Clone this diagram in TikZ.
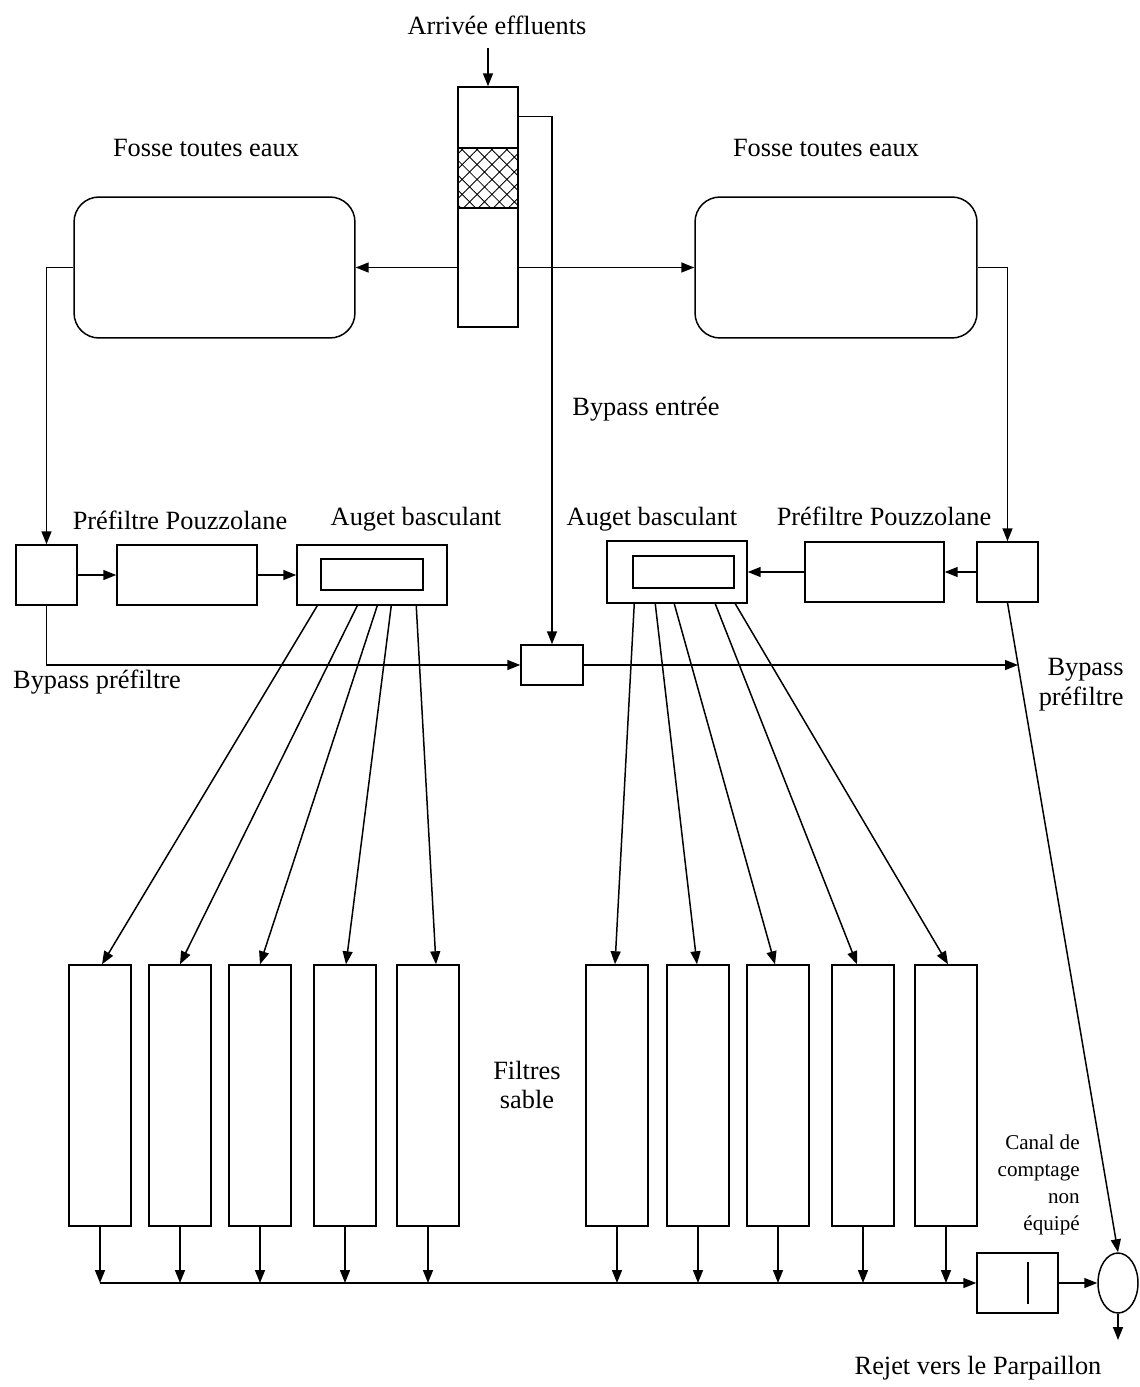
\documentclass[tikz,border=0pt]{standalone}
\usepackage{fontspec}
\setmainfont{Liberation Serif}
\usetikzlibrary{arrows.meta,positioning,patterns.meta,shapes.geometric}

\tikzset{
  box/.style={draw, line width=0.85pt, inner sep=0pt},
  lbl/.style={font=\fontsize{15}{17}\selectfont, inner sep=0pt},
  pipe/.style={line width=0.85pt},
  flow/.style={line width=0.85pt, -{Triangle[length=2.6mm,width=2mm]}}
}

\begin{document}
\begin{tikzpicture}[x=0.02cm, y=-0.02cm]
  \useasboundingbox (0,0) rectangle (1140,1387);

  % Inlet with screen
  \node[lbl] (arrLbl) at (497,25) {Arrivée effluents};
  \coordinate (arrIn) at (488,48);
  \node[box, minimum width=1.2cm, minimum height=4.8cm] (inlet) at (488,207) {};
  \node[box, minimum width=1.2cm, minimum height=1.2cm,
        pattern={Hatch[angle=45,distance=6pt,line width=0.5pt]}] (grid) at (488,178) {};
  \draw[flow] (arrIn) -- (inlet.north);

  % Septic tanks
  \node[lbl] (fosseLLbl) at (206,148) {Fosse toutes eaux};
  \node[lbl] (fosseRLbl) at (826,148) {Fosse toutes eaux};
  \node[box, rounded corners=0.5cm, minimum width=5.62cm, minimum height=2.82cm] (fosseL) at (214.5,267.5) {};
  \node[box, rounded corners=0.5cm, minimum width=5.64cm, minimum height=2.82cm] (fosseR) at (836,267.5) {};
  \draw[flow] (inlet.west |- fosseL.east) -- (fosseL.east);
  \draw[flow] (inlet.east |- fosseR.west) -- (fosseR.west);

  % Left line: prefilter and tipping bucket
  \node[lbl] (preLLbl) at (180,520) {Préfiltre Pouzzolane};
  \node[lbl] (augLLbl) at (416,519) {Auget basculant};
  \node[box, minimum width=1.22cm, minimum height=1.2cm] (boxL) at (46.5,575) {};
  \node[box, minimum width=2.8cm, minimum height=1.2cm] (preL) at (187,575) {};
  \node[box, minimum width=3.0cm, minimum height=1.2cm] (augL) at (372,575) {};
  \node[box, minimum width=2.04cm, minimum height=0.62cm] (augLin) at (372,574.5) {};
  \draw[flow] (fosseL.west) -| (boxL.north);
  \draw[flow] (boxL) -- (preL);
  \draw[flow] (preL) -- (augL);

  % Right line: prefilter and tipping bucket
  \node[lbl] (augRLbl) at (652,519) {Auget basculant};
  \node[lbl] (preRLbl) at (884,516) {Préfiltre Pouzzolane};
  \node[box, minimum width=1.22cm, minimum height=1.2cm] (boxR) at (1007.5,572) {};
  \node[box, minimum width=2.78cm, minimum height=1.2cm] (preR) at (874.5,572) {};
  \node[box, minimum width=2.8cm, minimum height=1.24cm] (augR) at (677,572) {};
  \node[box, minimum width=2.02cm, minimum height=0.64cm] (augRin) at (683.5,572) {};
  \draw[flow] (fosseR.east) -| (boxR.north);
  \draw[flow] (boxR) -- (preR);
  \draw[flow] (preR) -- (augR);

  % Bypasses
  \node[lbl] (byInLbl) at (646,409) {Bypass entrée};
  \node[lbl] (byLLbl) at (97,682) {Bypass préfiltre};
  \node[lbl, align=right, anchor=east] (byRLbl) at (1124,685) {Bypass\\préfiltre};
  \node[box, minimum width=1.24cm, minimum height=0.8cm] (jct) at (552,665) {};
  \coordinate (byR) at (1018,665);
  \draw[flow] ([yshift=-0.6cm]inlet.north east) -| (jct.north);
  \draw[flow] (boxL.south) |- (jct.west);
  \draw[flow] (jct.east) -- (byR);

  % Sand filters
  \foreach \x [count=\i] in {100,180,260,345,428}
    \node[box, minimum width=1.24cm, minimum height=5.22cm] (fL\i) at (\x,1095.5) {};
  \foreach \x [count=\i] in {617,698,778,863,946}
    \node[box, minimum width=1.24cm, minimum height=5.22cm] (fR\i) at (\x,1095.5) {};
  \node[lbl, align=center] (sableLbl) at (527,1085) {Filtres\\sable};

  % Distribution from the buckets
  \foreach \d/\e [count=\i] in {0.42/0.04,1.22/0,1.62/0,1.9/0.02,2.4/0.16}
    \draw[flow] ([xshift=\d cm]augL.south west) -- ([xshift=\e cm]fL\i.north);
  \foreach \d/\e [count=\i] in {0.56/-0.04,0.98/-0.02,1.36/-0.06,2.18/-0.12,2.58/0.04}
    \draw[flow] ([xshift=\d cm]augR.south west) -- ([xshift=\e cm]fR\i.north);

  % Collector, counting channel and outlet
  \node[box, minimum width=1.62cm, minimum height=1.2cm] (canal) at (1017.5,1283) {};
  \node[box, ellipse, minimum width=0.8cm, minimum height=1.2cm] (rejet) at (1118,1283) {};
  \coordinate (rejOut) at (1118,1340);
  \draw[pipe] ([xshift=0.21cm,yshift=0.42cm]canal.center) -- ([xshift=0.21cm,yshift=-0.42cm]canal.center);
  \foreach \i in {1,...,5} {
    \draw[flow] (fL\i.south) -- (fL\i.south |- canal.west);
    \draw[flow] (fR\i.south) -- (fR\i.south |- canal.west);
  }
  \draw[flow] (fL1.south |- canal.west) -- (canal.west);
  \draw[flow] (canal) -- (rejet);
  \draw[flow] (rejet.south) -- (rejOut);
  \draw[flow] (boxR.south) -- (rejet.north);
  \node[font=\fontsize{12}{15.3}\selectfont, align=right, anchor=east, inner sep=0pt] (canalLbl) at (1080,1185) {Canal de\\comptage\\non\\équipé};
  \node[lbl] (rejLbl) at (978,1368) {Rejet vers le Parpaillon};
\end{tikzpicture}
\end{document}
